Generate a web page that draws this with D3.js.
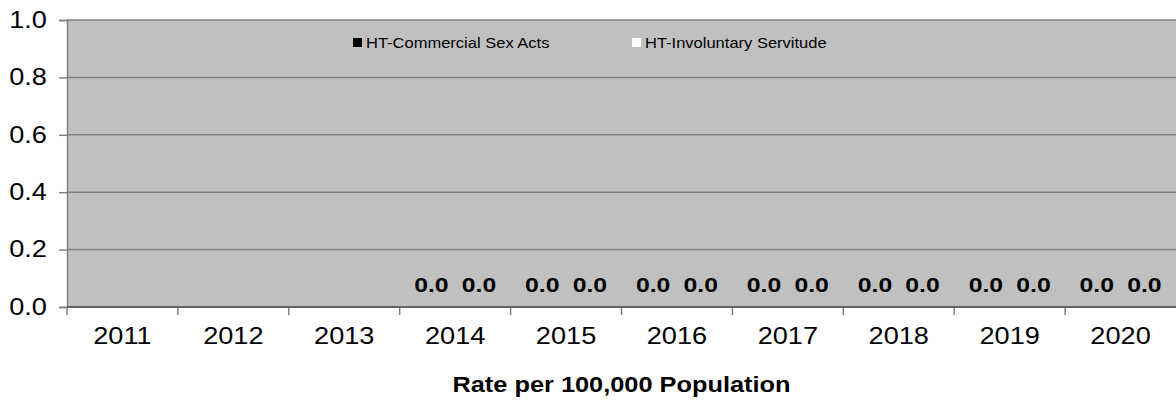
<!DOCTYPE html>
<html lang="en"><head>
<meta charset="utf-8">
<title>HT rate</title>
<script src="https://cdnjs.cloudflare.com/ajax/libs/d3/7.8.5/d3.min.js"></script>
<style>
body { margin: 0; background: #fff; }
svg { font-family: Arial, "Liberation Sans", sans-serif; }
</style>
</head>
<body>
<svg id="chart" width="1176" height="402"></svg>
<script>
var years = ["2011","2012","2013","2014","2015","2016","2017","2018","2019","2020"];
var seriesNames = ["HT-Commercial Sex Acts", "HT-Involuntary Servitude"];
var commercialSex = [null, null, null, 0.0, 0.0, 0.0, 0.0, 0.0, 0.0, 0.0];
var involuntary = [null, null, null, 0.0, 0.0, 0.0, 0.0, 0.0, 0.0, 0.0];
var yTicks = [0, 0.2, 0.4, 0.6, 0.8, 1.0];
var colors = ["#000000", "#ffffff"];

var stretch = "scale(1.18,1)"; // text in the original looks a bit wide

var svg = d3.select("#chart");
var margin = {left: 67, top: 20, right: 0, bottom: 95};
var width = 1176 - margin.left - margin.right;
var height = 402 - margin.top - margin.bottom;

var g = svg.append("g").attr("transform", "translate(" + margin.left + "," + margin.top + ")");

var x = d3.scaleBand().domain(years).range([0, width]);
var xInner = d3.scaleBand().domain(seriesNames).range([x.bandwidth()/2 - 50, x.bandwidth()/2 + 50]).padding(0.1);
var y = d3.scaleLinear().domain([0, 1]).range([height, 0]);

g.append("rect").attr("width", width).attr("height", height).attr("fill", "#c0c0c0");

// gridlines
g.selectAll(".grid").data(yTicks).enter().append("line")
  .attr("x1", 0).attr("x2", width)
  .attr("y1", function(d) { return y(d); }).attr("y2", function(d) { return y(d); })
  .attr("stroke", "#808080").attr("stroke-width", 1.5);

// y axis
var yAxis = g.append("g").call(d3.axisLeft(y).tickValues(yTicks).tickFormat(d3.format(".1f")).tickSize(8).tickPadding(9));
yAxis.select(".domain").attr("stroke", "#808080").attr("stroke-width", 1.5);
yAxis.selectAll(".tick line").attr("stroke", "#808080").attr("stroke-width", 1.5);
yAxis.selectAll("text").attr("font-size", 23).attr("fill", "#000").attr("transform", stretch);

// x axis
var xAxis = g.append("g").attr("transform", "translate(0," + height + ")")
  .call(d3.axisBottom(x).tickSize(0).tickPadding(21));
xAxis.select(".domain").remove();
xAxis.selectAll("text").attr("font-size", 23).attr("fill", "#000").attr("transform", stretch);
xAxis.selectAll(".xt").data(years).enter().append("line").attr("class", "xt")
  .attr("x1", function(d) { return x(d); }).attr("x2", function(d) { return x(d); })
  .attr("y1", 0).attr("y2", 8).attr("stroke", "#808080").attr("stroke-width", 1.5);
g.append("line").attr("x1", 0).attr("x2", width).attr("y1", height).attr("y2", height)
  .attr("stroke", "#555").attr("stroke-width", 1.5);

// bars and labels
var allSeries = [commercialSex, involuntary];
allSeries.forEach(function(vals, si) {
  var pts = years.map(function(yr, i) { return {year: yr, v: vals[i]}; }).filter(function(d) { return d.v !== null; });
  g.selectAll(".bar" + si).data(pts).enter().append("rect")
    .attr("x", function(d) { return x(d.year) + xInner(seriesNames[si]); })
    .attr("width", xInner.bandwidth())
    .attr("y", function(d) { return y(d.v); })
    .attr("height", function(d) { return height - y(d.v); })
    .attr("fill", colors[si]);
  g.selectAll(".lab" + si).data(pts).enter().append("text")
    .attr("transform", function(d) {
      var cx = x(d.year) + xInner(seriesNames[si]) + xInner.bandwidth()/2;
      return "translate(" + cx + "," + (y(d.v) - 15) + ") " + stretch;
    })
    .attr("text-anchor", "middle")
    .attr("font-size", 21).attr("font-weight", "bold")
    .text(function(d) { return d3.format(".1f")(d.v); });
});

// legend
var legendX = [286, 565];
var legend = g.selectAll(".leg").data(seriesNames).enter().append("g")
  .attr("transform", function(d, i) { return "translate(" + legendX[i] + ",18)"; });
legend.append("rect").attr("width", 9).attr("height", 9).attr("y", 0)
  .attr("fill", function(d, i) { return colors[i]; });
legend.append("text").attr("transform", "translate(13,9.5) " + stretch).attr("font-size", 14)
  .text(function(d) { return d; });

// axis title
svg.append("text").attr("transform", "translate(" + (margin.left + width/2) + ",392) " + stretch)
  .attr("text-anchor", "middle").attr("font-size", 21.5).attr("font-weight", "bold")
  .text("Rate per 100,000 Population");
</script>
</body></html>
